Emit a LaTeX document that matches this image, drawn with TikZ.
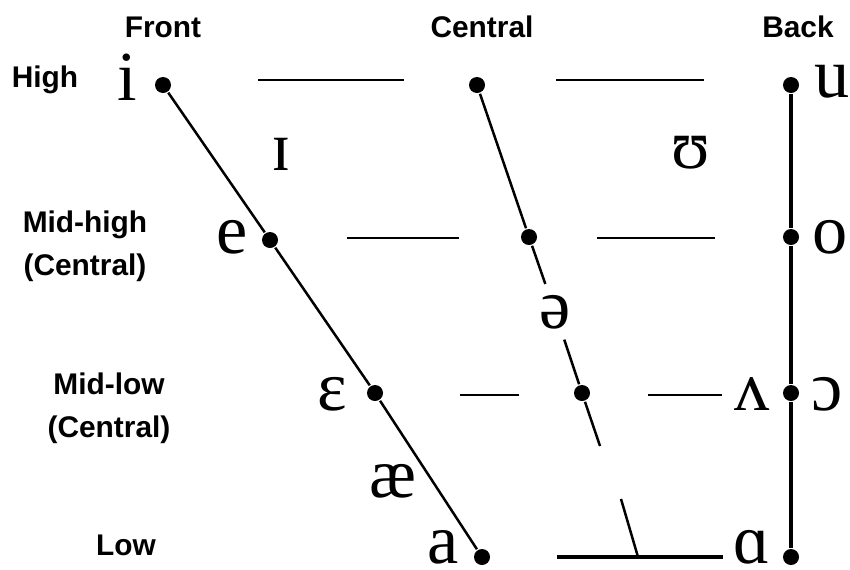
\documentclass[tikz,border=0pt]{standalone}
\usepackage{fontspec}
\setmainfont{Liberation Serif}
\newfontfamily\labelfont{Liberation Sans}

\begin{document}
\begin{tikzpicture}[x=0.2mm, y=-0.2mm, line width=0.5mm,
  dot/.style={circle, fill, inner sep=0pt, minimum size=3.2mm},
  ipa/.style={anchor=base, inner sep=0pt, font=\fontsize{40}{42}\selectfont},
  lab/.style={anchor=base, inner sep=0pt, align=center, font=\labelfont\bfseries\fontsize{17}{24}\selectfont}]
\useasboundingbox (0,0) rectangle (850,569);
\node[lab] (front) at (163,37) {Front};
\node[lab] (central) at (482,37) {Central};
\node[lab] (back) at (798,37) {Back};
\node[lab] (high) at (45,87) {High};
\node[lab] (midhigh) at (85,275) {Mid-high\\(Central)};
\node[lab] (midlow) at (109,437) {Mid-low\\(Central)};
\node[lab] (low) at (126,555) {Low};
\node[dot] (fi) at (163,85) {};
\node[dot] (fe) at (270,240) {};
\node[dot] (feps) at (375,393) {};
\node[dot] (fa) at (482,557) {};
\node[dot] (chigh) at (477,85) {};
\node[dot] (cmid) at (529,237) {};
\node[dot] (clow) at (582,393) {};
\node[dot] (bu) at (791,85) {};
\node[dot] (bo) at (791,237) {};
\node[dot] (bopen) at (791,393) {};
\node[dot] (balpha) at (791,557) {};
\node[ipa] (i) at (127,100) {i};
\node[ipa] (smallcapi) at (281,170) {ɪ};
\node[ipa] (e) at (232,253) {e};
\node[ipa] (eps) at (332,410) {ɛ};
\node[ipa] (ae) at (393,497) {æ};
\node[ipa] (a) at (443,563) {a};
\node[ipa, inner sep=5.5pt] (schwa) at (555,328) {ə};
\node[ipa] (upsilon) at (691,168) {ʊ};
\node[ipa] (u) at (832,97) {u};
\node[ipa] (o) at (830,253) {o};
\node[ipa] (wedge) at (752,410) {ʌ};
\node[ipa] (openo) at (827,410) {ɔ};
\node[ipa] (alpha) at (752,563) {ɑ};
\coordinate (gaptop) at (600,446);
\coordinate (gapbot) at (621,499);
\coordinate (foot) at (638,557);
\coordinate (barl) at (557,557);
\coordinate (barr) at (723,557);
\foreach \a/\b/\y in {258/404/80, 556/704/80, 347/459/238, 597/715/238, 460/519/395, 648/722/395}
  \draw (\a,\y) -- (\b,\y);
\draw (fi) -- (fe) -- (feps) -- (fa);
\draw (chigh) -- (cmid) -- (schwa) -- (clow) -- (gaptop);
\draw (gapbot) -- (foot);
\draw[line width=0.7mm] (barl) -- (barr);
\draw[line width=0.7mm] (bu) -- (bo) -- (bopen) -- (balpha);
\end{tikzpicture}
\end{document}
